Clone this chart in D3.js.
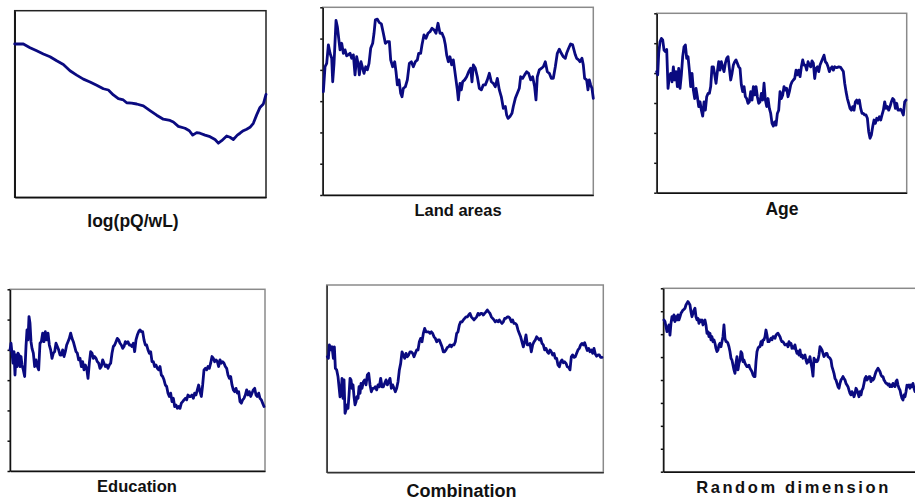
<!DOCTYPE html>
<html>
<head>
<meta charset="utf-8">
<script src="https://cdn.jsdelivr.net/npm/d3@7"></script>
<style>
  html, body { margin: 0; padding: 0; background: #fff; overflow: hidden; }
  svg { display: block; }
</style>
</head>
<body>
<svg id="chart" width="915" height="500"></svg>
<script>
// Each series: [observation, value]
const logPQ = [[0,4.93],[26,4.93],[46,4.81],[66,4.71],[86,4.61],[106,4.52],[126,4.39],[146,4.27],[166,4.07],[186,3.93],[206,3.80],[226,3.71],[246,3.60],[266,3.49],[281,3.45],[296,3.29],[311,3.17],[326,3.13],[336,3.04],[351,3.03],[366,3.00],[386,2.94],[406,2.79],[426,2.64],[446,2.51],[466,2.47],[476,2.42],[491,2.28],[511,2.22],[524,2.14],[534,2.00],[546,2.08],[556,2.06],[571,2.00],[586,1.95],[601,1.86],[611,1.74],[621,1.82],[636,1.97],[646,1.93],[656,1.86],[668,2.00],[676,2.06],[686,2.14],[696,2.19],[706,2.25],[716,2.38],[726,2.65],[736,2.89],[746,3.00],[754,3.31]];

const landAreas = [[2,3.30],[7,4.10],[12,4.21],[17,4.80],[22,4.53],[27,4.37],[30,3.62],[34,4.21],[40,5.58],[44,5.38],[48,5.01],[52,4.64],[57,4.85],[62,4.53],[67,4.64],[72,4.45],[77,4.48],[82,4.53],[87,4.37],[92,4.48],[97,3.84],[102,4.42],[107,4.16],[110,3.84],[115,4.26],[120,4.05],[124,3.89],[129,4.10],[134,4.00],[139,4.21],[144,4.69],[150,4.85],[154,5.17],[158,5.60],[164,5.62],[170,5.51],[176,5.47],[182,5.17],[188,4.85],[194,4.90],[200,4.90],[204,4.32],[210,4.10],[216,4.26],[220,3.94],[224,3.52],[229,3.68],[234,3.25],[238,3.14],[242,3.41],[248,3.46],[254,3.68],[260,4.21],[266,4.26],[272,4.10],[278,4.26],[284,4.32],[288,4.53],[294,4.53],[298,4.80],[304,5.12],[310,5.01],[316,5.17],[322,5.22],[328,5.33],[334,5.28],[340,5.17],[346,5.49],[352,5.17],[358,5.17],[364,5.01],[368,4.80],[372,4.48],[377,4.26],[382,4.42],[387,4.16],[392,4.32],[396,4.00],[400,3.68],[404,3.36],[407,3.04],[412,3.57],[416,3.36],[420,3.62],[426,3.68],[432,3.78],[438,3.94],[444,4.05],[448,3.62],[452,4.16],[458,4.05],[464,3.78],[470,3.41],[476,3.36],[482,3.52],[488,3.52],[494,3.68],[500,3.89],[506,3.62],[512,3.57],[518,3.46],[524,3.73],[530,3.36],[536,3.14],[542,2.77],[548,2.83],[552,2.56],[556,2.45],[562,2.51],[568,2.61],[572,2.83],[578,3.09],[584,3.25],[590,3.41],[594,3.78],[600,3.73],[606,3.84],[612,3.94],[618,3.89],[624,3.68],[630,3.78],[636,3.46],[640,3.04],[644,3.78],[650,4.00],[656,4.05],[662,4.10],[668,4.26],[674,3.94],[680,3.89],[686,3.73],[692,3.73],[698,4.10],[704,4.53],[710,4.66],[716,4.53],[722,4.42],[728,4.37],[732,4.53],[738,4.69],[744,4.83],[750,4.80],[754,4.64],[758,4.48],[762,4.37],[768,4.32],[772,4.26],[778,4.37],[782,4.16],[786,3.73],[792,3.68],[796,3.36],[800,3.68],[804,3.52],[808,3.41],[812,3.09]];

const age = [[0,4.05],[3,3.94],[6,4.66],[10,5.05],[14,5.16],[18,5.11],[22,4.77],[26,4.72],[30,4.79],[34,3.49],[38,3.88],[42,3.99],[46,3.71],[50,4.21],[54,3.77],[58,4.05],[62,3.55],[66,4.16],[70,3.49],[74,3.94],[78,4.55],[82,4.88],[86,4.94],[90,4.49],[94,4.55],[98,4.10],[102,3.55],[106,3.99],[110,3.43],[114,3.15],[118,3.49],[122,3.21],[126,2.88],[130,3.04],[134,2.76],[138,2.56],[142,3.04],[146,2.76],[150,3.21],[154,3.32],[158,3.32],[162,3.55],[166,4.21],[170,4.21],[174,3.94],[178,3.66],[182,4.05],[186,4.38],[190,4.10],[194,4.38],[198,4.21],[202,4.05],[206,4.33],[210,4.49],[214,4.55],[218,4.16],[222,3.77],[226,3.99],[230,4.27],[234,4.38],[238,4.44],[242,4.33],[246,4.21],[250,4.16],[254,3.60],[258,3.38],[262,3.55],[266,3.21],[270,3.15],[274,2.99],[278,3.04],[282,3.38],[286,3.10],[290,3.55],[294,3.27],[298,3.55],[302,3.21],[306,2.99],[310,3.04],[314,3.32],[318,3.10],[322,3.66],[326,3.10],[330,2.88],[334,3.15],[338,2.82],[342,2.65],[346,2.32],[350,2.23],[354,2.37],[358,2.26],[362,2.65],[366,2.76],[370,3.38],[374,3.15],[378,3.27],[382,3.55],[386,3.43],[390,3.49],[394,3.21],[398,3.38],[402,3.60],[406,3.71],[410,3.77],[414,3.82],[418,4.10],[422,3.94],[426,4.10],[430,3.88],[434,4.21],[438,4.44],[442,4.27],[446,4.27],[450,4.10],[454,4.38],[458,4.27],[462,4.21],[466,4.41],[470,4.33],[474,3.82],[478,4.16],[482,4.21],[486,4.05],[490,4.27],[494,4.38],[498,4.49],[502,4.60],[506,4.38],[510,4.33],[514,4.21],[518,4.05],[522,4.16],[526,4.21],[530,4.10],[534,4.21],[540,4.18],[546,4.21],[552,4.19],[556,4.12],[560,4.05],[564,3.66],[568,3.38],[572,3.15],[576,2.99],[580,2.82],[584,2.76],[588,2.88],[592,2.76],[596,3.04],[600,3.10],[604,2.99],[608,3.10],[612,2.82],[616,2.65],[620,2.65],[624,2.60],[628,2.60],[632,2.49],[636,2.04],[640,1.82],[644,1.93],[648,2.21],[652,2.43],[656,2.32],[660,2.49],[664,2.43],[668,2.54],[672,2.43],[676,2.60],[680,2.76],[684,3.04],[688,2.82],[692,2.88],[696,2.76],[700,2.88],[704,3.04],[708,3.15],[712,3.10],[716,2.82],[720,2.99],[724,2.76],[728,2.76],[732,2.79],[736,2.71],[740,2.60],[744,3.04],[748,3.10]];

const education = [[0,4.00],[3,4.22],[6,3.89],[9,3.56],[12,3.94],[15,3.17],[18,3.83],[21,3.45],[24,3.89],[27,3.83],[30,3.45],[33,3.78],[36,3.50],[40,3.34],[44,3.12],[48,4.11],[51,4.66],[54,4.33],[57,5.10],[60,4.88],[63,4.27],[66,4.05],[70,3.89],[74,3.45],[78,3.67],[82,3.45],[86,3.34],[90,4.22],[94,4.27],[98,4.55],[102,4.27],[106,4.60],[110,4.33],[114,4.55],[118,4.16],[122,4.00],[126,3.72],[130,3.89],[134,3.94],[138,4.22],[142,4.11],[146,4.00],[150,3.83],[154,3.83],[158,4.00],[162,3.78],[166,3.94],[170,4.16],[174,4.27],[178,4.38],[182,4.55],[186,4.38],[190,4.27],[194,4.11],[198,3.94],[202,3.89],[206,3.67],[210,3.72],[214,3.45],[218,3.61],[222,3.34],[226,3.50],[230,3.39],[234,3.06],[238,3.56],[242,3.94],[246,3.89],[250,3.72],[254,3.78],[258,3.72],[262,3.61],[266,3.56],[270,3.39],[274,3.45],[278,3.67],[282,3.56],[286,3.45],[290,3.50],[294,3.39],[298,3.50],[302,3.56],[306,3.89],[310,4.11],[314,4.16],[318,4.27],[322,4.38],[326,4.33],[330,4.22],[334,4.16],[338,4.05],[342,4.11],[346,4.27],[350,4.22],[354,4.27],[358,4.16],[362,4.16],[366,4.11],[370,4.22],[374,3.94],[378,4.33],[382,4.49],[386,4.60],[390,4.66],[394,4.60],[398,4.60],[402,4.33],[406,4.16],[410,4.16],[414,4.00],[418,3.89],[422,3.94],[426,3.61],[430,3.61],[434,3.45],[438,3.50],[442,3.39],[446,3.34],[450,3.45],[454,3.17],[458,3.12],[462,3.01],[466,2.84],[470,2.79],[474,2.57],[478,2.46],[482,2.57],[486,2.29],[490,2.40],[494,2.13],[498,2.18],[502,2.07],[506,2.13],[510,2.07],[514,2.24],[518,2.29],[522,2.35],[526,2.40],[530,2.35],[534,2.51],[538,2.46],[542,2.46],[546,2.51],[550,2.40],[554,2.57],[558,2.51],[562,2.68],[566,2.84],[570,2.62],[574,2.46],[578,2.84],[582,3.34],[586,3.39],[590,3.34],[594,3.45],[598,3.39],[602,3.56],[606,3.78],[610,3.72],[614,3.61],[618,3.67],[622,3.61],[626,3.45],[630,3.67],[634,3.56],[638,3.61],[642,3.56],[646,3.45],[650,3.39],[654,3.17],[658,3.06],[662,3.12],[666,2.84],[670,2.68],[674,2.62],[678,2.73],[682,2.57],[686,2.62],[690,2.29],[694,2.24],[698,2.35],[702,2.40],[706,2.51],[710,2.68],[714,2.51],[718,2.62],[722,2.46],[726,2.57],[730,2.68],[734,2.73],[738,2.51],[742,2.46],[746,2.57],[750,2.40],[754,2.35],[758,2.24],[762,2.13]];

const combination = [[2,3.70],[5,3.65],[8,4.08],[12,3.92],[16,4.02],[20,3.65],[23,4.02],[26,3.33],[30,3.28],[34,3.06],[37,2.74],[40,2.42],[43,2.53],[46,3.01],[49,2.37],[52,2.96],[55,1.89],[58,2.00],[61,2.16],[64,2.05],[67,2.48],[70,3.01],[73,2.96],[76,2.69],[79,2.80],[82,2.42],[85,2.16],[88,2.26],[91,2.42],[94,2.37],[97,2.74],[100,2.53],[103,2.85],[106,2.69],[110,2.90],[114,2.96],[118,2.80],[122,3.12],[126,3.17],[130,2.80],[134,2.58],[138,2.69],[142,2.69],[146,2.74],[150,2.64],[154,2.80],[158,2.74],[162,3.01],[166,2.74],[170,2.74],[174,2.85],[178,2.96],[182,2.80],[186,2.90],[190,3.01],[194,2.69],[198,2.80],[202,2.69],[206,2.58],[210,2.69],[214,2.90],[218,3.28],[222,3.49],[226,3.86],[230,3.76],[234,3.65],[238,3.81],[242,3.70],[246,3.76],[250,3.86],[254,3.86],[258,3.81],[262,3.70],[266,3.81],[270,3.92],[274,3.92],[278,4.18],[282,4.29],[286,4.18],[290,4.45],[294,4.61],[298,4.50],[302,4.50],[306,4.50],[310,4.45],[314,4.50],[318,4.45],[322,4.34],[326,4.29],[330,4.18],[334,4.24],[338,4.24],[342,4.13],[346,4.02],[350,3.86],[354,3.86],[358,3.92],[362,4.00],[366,4.02],[370,4.08],[374,4.02],[378,4.08],[382,4.08],[386,4.18],[390,4.45],[394,4.50],[398,4.72],[402,4.82],[406,4.82],[410,4.88],[414,4.93],[418,4.98],[422,4.98],[426,5.04],[430,5.09],[434,4.98],[438,4.93],[442,4.88],[446,4.93],[450,4.98],[454,5.09],[458,5.04],[462,5.09],[466,5.09],[470,5.04],[474,5.09],[478,5.14],[482,5.20],[486,5.14],[490,5.09],[494,4.98],[498,4.93],[502,4.88],[506,4.82],[510,4.86],[514,4.82],[518,4.88],[522,4.82],[526,4.77],[530,4.82],[534,4.93],[538,4.93],[542,4.98],[546,4.98],[550,4.93],[554,4.82],[558,4.88],[562,4.77],[566,4.77],[570,4.72],[574,4.56],[578,4.45],[582,4.34],[586,4.18],[590,4.02],[594,4.18],[598,4.40],[602,4.08],[606,4.08],[610,4.13],[614,3.86],[618,4.08],[622,4.18],[626,4.24],[630,4.34],[634,4.29],[638,4.24],[642,4.29],[646,4.13],[650,4.08],[654,3.92],[658,3.97],[662,3.86],[666,3.81],[670,3.92],[674,3.86],[678,3.76],[682,3.81],[686,3.65],[690,3.65],[694,3.44],[698,3.38],[702,3.54],[706,3.60],[710,3.51],[714,3.54],[718,3.49],[722,3.38],[726,3.36],[730,3.28],[734,3.70],[738,3.76],[742,3.68],[746,3.70],[750,3.81],[754,3.92],[758,3.97],[762,4.08],[766,4.13],[770,4.08],[774,4.15],[778,4.02],[782,3.90],[786,3.97],[790,3.86],[794,3.92],[798,3.81],[802,3.97],[806,3.79],[810,3.72],[814,3.76],[818,3.76],[822,3.68],[826,3.68]];

const randomDimension = [[2,6.62],[5,6.55],[8,6.33],[11,6.11],[14,6.25],[17,6.40],[20,5.96],[23,6.47],[26,6.76],[29,6.62],[32,6.84],[35,6.55],[38,6.76],[41,6.62],[44,6.84],[47,6.62],[50,6.76],[53,6.91],[56,6.98],[59,7.05],[62,7.08],[65,7.13],[68,7.27],[71,7.35],[74,7.42],[77,7.35],[80,7.27],[83,6.98],[86,6.76],[89,6.91],[92,7.05],[95,7.13],[98,6.76],[101,6.62],[104,6.69],[107,6.47],[110,6.62],[113,6.55],[116,6.62],[119,6.40],[122,6.55],[125,6.62],[128,6.40],[131,6.04],[134,6.11],[137,5.89],[140,6.04],[143,5.75],[146,5.89],[149,5.67],[152,5.75],[155,5.60],[158,5.38],[161,5.24],[164,5.31],[167,5.53],[170,5.60],[173,5.45],[176,5.67],[179,5.89],[182,6.40],[185,5.82],[188,5.67],[191,5.67],[194,5.60],[197,5.45],[200,5.24],[203,4.95],[206,4.87],[209,4.65],[212,4.44],[215,4.29],[218,4.73],[221,5.02],[224,4.44],[227,4.73],[230,4.87],[233,5.24],[236,5.16],[239,4.80],[242,4.87],[245,4.73],[248,4.65],[251,4.58],[254,4.58],[257,4.65],[260,4.51],[263,4.44],[266,4.36],[269,4.22],[272,4.15],[275,4.15],[278,4.80],[281,5.24],[284,5.38],[287,5.45],[290,5.45],[293,5.67],[296,5.53],[299,5.75],[302,5.75],[305,5.89],[308,6.18],[311,5.96],[314,5.67],[317,5.67],[320,5.75],[323,5.82],[326,5.75],[329,5.89],[332,5.89],[335,5.82],[338,5.96],[341,6.01],[344,6.04],[347,5.96],[350,5.89],[353,5.75],[356,5.67],[359,5.67],[362,5.60],[365,5.53],[368,5.53],[371,5.57],[374,5.45],[377,5.67],[380,5.53],[383,5.60],[386,5.38],[389,5.45],[392,5.38],[395,5.53],[398,5.31],[401,5.16],[404,5.24],[407,5.09],[410,5.31],[413,5.02],[416,5.09],[419,4.95],[422,5.02],[425,5.09],[428,4.87],[431,4.73],[434,4.87],[437,4.80],[440,5.02],[443,4.73],[446,4.51],[449,4.17],[452,4.95],[455,4.80],[458,4.87],[461,4.80],[464,4.87],[467,5.09],[470,5.45],[473,5.38],[476,5.31],[479,5.16],[482,5.02],[485,5.09],[488,5.16],[491,5.16],[494,5.02],[497,4.99],[500,4.95],[503,4.87],[506,4.58],[509,4.44],[512,4.29],[515,4.07],[518,4.00],[521,3.85],[524,3.71],[527,3.64],[530,3.85],[533,4.00],[536,4.07],[539,4.15],[542,4.07],[545,4.00],[548,3.85],[551,3.78],[554,3.71],[557,3.56],[560,3.42],[563,3.35],[566,3.49],[569,3.42],[572,3.27],[575,3.42],[578,3.64],[581,3.56],[584,3.42],[587,3.27],[590,3.49],[593,3.35],[596,3.56],[599,3.64],[602,3.85],[605,4.07],[608,4.15],[611,4.00],[614,4.07],[617,4.15],[620,4.15],[623,3.93],[626,4.07],[629,4.00],[632,4.07],[635,4.22],[638,4.36],[641,4.44],[644,4.51],[647,4.44],[650,4.36],[653,4.22],[656,4.15],[659,4.15],[662,4.00],[665,3.93],[668,3.85],[671,3.85],[674,3.78],[677,3.83],[680,3.71],[683,3.78],[686,3.71],[689,3.85],[692,3.78],[695,3.71],[698,3.93],[701,4.00],[704,3.78],[707,3.64],[710,3.56],[713,3.35],[716,3.20],[719,3.13],[722,3.35],[725,3.27],[728,3.49],[731,3.78],[734,3.71],[737,3.78],[740,3.64],[743,3.78],[746,3.71],[749,3.85],[752,3.64],[755,3.49]];

const panelTitles = ["log(pQ/wL)", "Land areas", "Age", "Education", "Combination", "Random dimension"];
const panelSeries = [logPQ, landAreas, age, education, combination, randomDimension];
const panelObsMax = [754, 812, 750, 765, 830, 761];
const panelYMax = [6, 6, 6, 6, 6, 8];
const panelTickSteps = [0, 6, 6, 6, 0, 8];   // tick intervals on the value axis (0: none)

// Plot frames and caption placement
const layout = [
  { x0: 14.7, x1: 266,   y0: 10.7,  y1: 197.3, tx: 133,   ty: 226.5, fs: 17.5, ls: 0,   axis: "#111", border: "#222" },
  { x0: 322.7, x1: 593.3, y0: 7.3,  y1: 195,   tx: 458,   ty: 216,   fs: 16.5, ls: 0,   axis: "#111", border: "#8a8a8a" },
  { x0: 656.7, x1: 906.7, y0: 13.3, y1: 192.7, tx: 782,   ty: 215,   fs: 17.5, ls: 0,   axis: "#111", border: "#8a8a8a" },
  { x0: 10,    x1: 265,   y0: 289.3, y1: 471,  tx: 137,   ty: 492,   fs: 16.5, ls: 0,   axis: "#111", border: "#8a8a8a" },
  { x0: 326.7, x1: 603.3, y0: 285,  y1: 472.3, tx: 461.5, ty: 496.5, fs: 18,   ls: 0,   axis: "#333", border: "#8a8a8a" },
  { x0: 663.3, x1: 917,   y0: 288.3, y1: 471.7, tx: 793.5, ty: 492.5, fs: 16.5, ls: 2.6, axis: "#111", border: "#8a8a8a" }
];

const svg = d3.select("#chart");

panelSeries.forEach((series, i) => {
  const L = layout[i];
  const x = d3.scaleLinear().domain([0, panelObsMax[i]]).range([L.x0, L.x1]);
  const y = d3.scaleLinear().domain([0, panelYMax[i]]).range([L.y1, L.y0]);
  const g = svg.append("g");

  // plot-area border (top and right sides show in grey)
  g.append("rect")
    .attr("x", L.x0).attr("y", L.y0)
    .attr("width", L.x1 - L.x0).attr("height", L.y1 - L.y0)
    .attr("fill", "none").attr("stroke", L.border).attr("stroke-width", 1.5);

  // value axis
  const steps = panelTickSteps[i];
  const yAxis = d3.axisLeft(y)
    .tickValues(steps ? d3.range(0, panelYMax[i] + 0.001, panelYMax[i] / steps) : [])
    .tickSize(steps ? 2.5 : 0)
    .tickSizeOuter(0)
    .tickFormat("");
  const ya = g.append("g").attr("transform", `translate(${L.x0},0)`).call(yAxis);
  ya.selectAll("path, line").attr("stroke", L.axis).attr("stroke-width", 1.5);

  // category axis
  const xAxis = d3.axisBottom(x).tickValues([]).tickSizeOuter(0);
  const xa = g.append("g").attr("transform", `translate(0,${L.y1})`).call(xAxis);
  xa.selectAll("path").attr("stroke", L.axis).attr("stroke-width", 1.5);

  // series line
  const line = d3.line().x(d => x(d[0])).y(d => y(d[1]));
  g.append("path")
    .datum(series)
    .attr("d", line)
    .attr("fill", "none")
    .attr("stroke", "#0a0a80")
    .attr("stroke-width", 2.8)
    .attr("stroke-linejoin", "round")
    .attr("stroke-linecap", "round");

  // caption
  g.append("text")
    .attr("x", L.tx).attr("y", L.ty)
    .attr("text-anchor", "middle")
    .attr("font-family", "'Liberation Sans', Arial, Helvetica, sans-serif")
    .attr("font-weight", "bold")
    .attr("font-size", L.fs)
    .attr("letter-spacing", L.ls)
    .attr("fill", "#111")
    .text(panelTitles[i]);
});
</script>
</body>
</html>
